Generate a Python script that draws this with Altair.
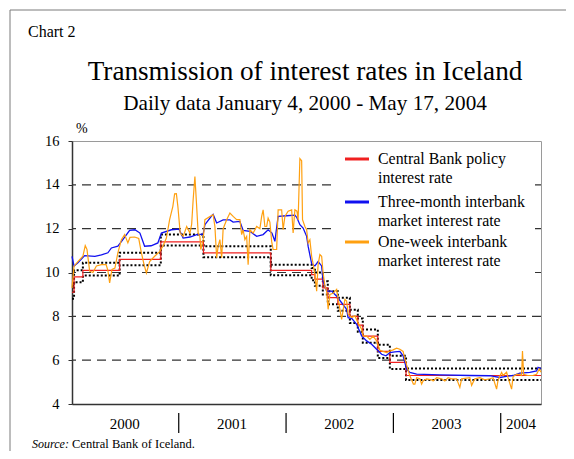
import altair as alt
import pandas as pd

# ---------------- data (days counted from 2000-01-04) ----------------
START = "2000-01-04"

policy_days = [0, 7, 37, 162, 302, 447, 676, 815, 826, 853, 870, 904, 945, 972, 989, 1040, 1081, 1136, 1595]
policy_rate = [9.1, 9.8, 10.1, 10.6, 11.4, 10.9, 10.1, 9.9, 9.7, 9.3, 8.85, 8.55, 8.0, 7.6, 7.1, 6.4, 5.9, 5.3, 5.3]
corridor_upper = [9.4, 10.1, 10.44, 10.9, 11.73, 11.2, 10.35, 10.2, 10.0, 9.6, 9.15, 8.85, 8.3, 7.9, 7.4, 6.7, 6.2, 5.62, 5.62]
corridor_lower = [8.8, 9.55, 9.86, 10.33, 11.23, 10.7, 9.88, 9.65, 9.4, 9.0, 8.55, 8.25, 7.7, 7.3, 6.8, 6.1, 5.6, 5.1, 5.1]

three_month_days = [0, 7, 20, 43, 78, 100, 122, 134, 156, 173, 196, 214, 231, 247, 269, 292, 304, 338, 364,
                    378, 401, 424, 446, 452, 475, 480, 492, 514, 537, 548, 571, 582, 605, 628, 650, 667, 680,
                    690, 701, 730, 758, 765, 775, 786, 798, 803, 815, 826, 837, 849, 854, 866, 883, 900, 917,
                    934, 939, 952, 968, 985, 1002, 1019, 1036, 1053, 1068, 1081, 1098, 1115, 1126, 1138, 1149,
                    1172, 1251, 1353, 1421, 1455, 1472, 1500, 1523, 1557, 1580, 1585, 1595]
three_month_rate = [10.74, 10.29, 10.44, 10.77, 10.74, 10.8, 10.9, 11.12, 11.2, 11.5, 11.92, 11.95, 11.8, 11.2,
                    11.22, 11.35, 11.8, 11.95, 11.98, 11.57, 11.62, 11.73, 11.75, 12.18, 12.59, 12.65, 12.26,
                    12.4, 12.4, 12.3, 12.33, 11.92, 11.88, 11.65, 11.73, 11.95, 11.8, 11.42, 12.56, 12.59,
                    12.62, 12.5, 12.18, 12.03, 11.65, 11.2, 10.4, 10.3, 10.5, 10.3, 9.6, 9.15, 9.15, 8.92,
                    8.62, 8.32, 7.94, 7.9, 7.64, 7.11, 6.88, 6.73, 6.5, 6.27, 6.2, 6.35, 6.38, 6.4, 6.2, 5.59,
                    5.44, 5.36, 5.33, 5.3, 5.29, 5.21, 5.25, 5.3, 5.41, 5.44, 5.51, 5.67, 5.62]

one_week_days = [0, 7, 20, 37, 45, 51, 60, 71, 83, 100, 116, 122, 128, 136, 146, 156, 168, 179, 190, 197, 213,
                 227, 236, 245, 253, 264, 281, 298, 309, 321, 332, 343, 349, 355, 360, 368, 378, 390, 401, 407,
                 412, 418, 424, 429, 435, 438, 446, 452, 469, 480, 486, 492, 497, 503, 509, 514, 526, 537, 548,
                 560, 571, 577, 582, 588, 594, 599, 605, 616, 628, 639, 645, 650, 656, 662, 667, 673, 679, 684,
                 696, 701, 713, 718, 724, 735, 747, 752, 758, 765, 769, 775, 781, 784, 792, 798, 803, 809, 815,
                 820, 826, 832, 837, 843, 849, 854, 860, 866, 871, 877, 888, 900, 905, 917, 928, 934, 939, 951,
                 962, 973, 985, 990, 1002, 1013, 1024, 1036, 1047, 1058, 1070, 1081, 1092, 1104, 1115, 1126,
                 1132, 1139, 1144, 1149, 1161, 1166, 1172, 1183, 1189, 1194, 1206, 1223, 1228, 1240, 1257, 1268,
                 1279, 1291, 1308, 1319, 1325, 1353, 1359, 1370, 1387, 1404, 1421, 1432, 1444, 1449, 1461, 1466,
                 1478, 1483, 1495, 1500, 1512, 1523, 1529, 1532, 1536, 1550, 1567, 1580, 1589, 1595]
one_week_rate = [9.3, 10.29, 10.5, 10.74, 11.23, 11.05, 10.06, 10.0, 10.3, 10.36, 10.36, 10.1, 9.53, 10.14, 10.2,
                 10.9, 11.5, 11.73, 11.35, 11.6, 11.62, 11.55, 10.9, 10.36, 9.98, 10.5, 10.74, 10.95, 11.2,
                 11.57, 12.41, 13.02, 13.59, 13.6, 13.02, 11.8, 11.65, 12.1, 11.8, 12.2, 13.32, 14.38, 13.0,
                 11.8, 11.65, 11.05, 11.5, 12.41, 12.55, 12.64, 12.1, 10.67, 11.2, 11.5, 10.67, 12.0, 12.41,
                 12.71, 12.56, 12.41, 12.41, 11.73, 11.95, 11.5, 11.65, 10.36, 11.95, 11.8, 12.1, 12.0, 12.56,
                 12.86, 12.1, 12.1, 12.48, 12.3, 11.42, 11.05, 11.05, 12.86, 12.86, 11.95, 12.56, 12.8, 12.86,
                 11.8, 12.86, 12.8, 12.4, 15.2, 15.1, 12.41, 12.1, 11.95, 11.35, 11.5, 10.74, 10.4, 9.9, 9.15,
                 10.36, 10.82, 10.74, 9.98, 9.4, 9.15, 8.32, 9.0, 9.05, 9.23, 8.8, 7.86, 8.77, 8.7, 8.1, 7.95,
                 8.02, 7.7, 7.41, 7.1, 7.1, 6.95, 7.1, 6.88, 6.45, 6.4, 6.35, 6.42, 6.47, 6.55, 6.5, 6.4, 6.05,
                 5.74, 5.5, 5.29, 4.91, 4.91, 5.2, 5.15, 4.91, 5.05, 5.15, 5.1, 5.05, 5.2, 5.15, 5.05, 5.2,
                 5.15, 5.15, 4.76, 5.15, 5.2, 4.85, 5.15, 5.2, 5.1, 5.15, 5.2, 4.68, 5.1, 5.44, 5.3, 5.45, 5.2,
                 4.68, 5.25, 5.35, 5.35, 5.3, 6.42, 5.35, 5.3, 5.3, 5.36, 5.6, 5.45]

grid_values = [6, 8, 10, 12, 14]
y_ticks = [4, 6, 8, 10, 12, 14, 16]
year_labels = ["2000", "2001", "2002", "2003", "2004"]
year_label_dates = ["2000-07-01", "2001-07-01", "2002-07-01", "2003-07-01", "2004-03-10"]
year_breaks = ["2001-01-01", "2002-01-01", "2003-01-01", "2004-01-01"]

legend_names = ["Central Bank policy interest rate",
                "Three-month interbank market interest rate",
                "One-week interbank market interest rate"]
legend_lines = [["Central Bank policy", "interest rate"],
                ["Three-month interbank", "market interest rate"],
                ["One-week interbank", "market interest rate"]]
legend_colors = ["#f02020", "#1010f0", "#ffa010"]

# ---------------- helpers ----------------
base = pd.Timestamp(START)


def to_dates(days):
    return [(base + pd.Timedelta(days=int(d))).strftime("%Y-%m-%d") for d in days]


policy_df = pd.DataFrame({"date": to_dates(policy_days), "rate": policy_rate})
corr_df = pd.concat([
    pd.DataFrame({"date": to_dates(policy_days), "rate": corridor_upper, "bound": "upper"}),
    pd.DataFrame({"date": to_dates(policy_days), "rate": corridor_lower, "bound": "lower"}),
])
tm_df = pd.DataFrame({"date": to_dates(three_month_days), "rate": three_month_rate})
ow_df = pd.DataFrame({"date": to_dates(one_week_days), "rate": one_week_rate})
grid_df = pd.DataFrame({"rate": grid_values})
years_df = pd.DataFrame({"date": year_label_dates, "label": year_labels})
breaks_df = pd.DataFrame({"date": year_breaks})
one = pd.DataFrame({"a": [0]})

SERIF = "Liberation Serif"

xscale = alt.Scale(domain=[alt.DateTime(year=2000, month=1, date=4),
                           alt.DateTime(year=2004, month=5, date=17)])
xaxis = alt.Axis(labels=False, ticks=False, grid=False, title=None,
                 domainColor="#333333", domainWidth=1.5)
X = alt.X("date:T", scale=xscale, axis=xaxis)
yscale = alt.Scale(domain=[4, 16], nice=False, zero=False)
yaxis = alt.Axis(values=y_ticks, grid=False, title=None, tickSize=4, tickColor="#333333",
                 domainColor="#333333", domainWidth=1.5, labelFont=SERIF, labelFontSize=14.5,
                 labelColor="black", labelPadding=9)
Y = alt.Y("rate:Q", scale=yscale, axis=yaxis)

W, H = 469, 263

grid = alt.Chart(grid_df).mark_rule(color="#333333", strokeWidth=1.2, strokeDash=[9, 6]).encode(
    y=alt.Y("rate:Q", scale=yscale, axis=yaxis))

legend_bg = alt.Chart(one).mark_rect(color="white").encode(
    x=alt.value(261), x2=alt.value(463), y=alt.value(7), y2=alt.value(139))

corr = alt.Chart(corr_df).mark_line(interpolate="step-after", color="black", strokeWidth=2,
                                    strokeDash=[2, 2]).encode(x=X, y=Y, detail="bound:N")
policy = alt.Chart(policy_df).mark_line(interpolate="step-after", color=legend_colors[0],
                                        strokeWidth=1.2).encode(x=X, y=Y)
three_month = alt.Chart(tm_df).mark_line(color=legend_colors[1], strokeWidth=1.3).encode(x=X, y=Y)
one_week = alt.Chart(ow_df).mark_line(color=legend_colors[2], strokeWidth=1.2).encode(x=X, y=Y)

# legend
leg_layers = []
for i, (name, lines, col) in enumerate(zip(legend_names, legend_lines, legend_colors)):
    ly = [18, 61, 101][i]
    leg_layers.append(alt.Chart(one).mark_rule(color=col, strokeWidth=3).encode(
        x=alt.value(273), x2=alt.value(297), y=alt.value(ly)))
    for j, line in enumerate(lines):
        leg_layers.append(alt.Chart(pd.DataFrame({"t": [line]})).mark_text(
            font=SERIF, fontSize=15.9, align="left", baseline="middle", color="black").encode(
            x=alt.value(306), y=alt.value(ly + 19 * j), text="t:N"))

# x-axis year labels and separators
year_text = alt.Chart(years_df).mark_text(font=SERIF, fontSize=15, baseline="middle",
                                          color="black").encode(
    x=alt.X("date:T", scale=xscale, axis=xaxis), y=alt.value(283), text="label:N")
year_sep = alt.Chart(breaks_df).mark_rule(color="black", strokeWidth=1.2).encode(
    x=alt.X("date:T", scale=xscale, axis=xaxis), y=alt.value(272), y2=alt.value(292))


def txt(s, x, y, size, align="left", style="normal"):
    return alt.Chart(pd.DataFrame({"t": [s]})).mark_text(
        font=SERIF, fontSize=size, align=align, baseline="middle", color="black",
        fontStyle=style).encode(x=alt.value(x), y=alt.value(y), text="t:N")


texts = [
    txt("Chart 2", -44, -109, 16),
    txt("Transmission of interest rates in Iceland", 233, -69, 27.2, "center"),
    txt("Daily data January 4, 2000 - May 17, 2004", 233, -37, 21.2, "center"),
    txt("%", 4, -12, 14),
    txt("Source:", -40, 303, 12, style="italic"),
    txt("Central Bank of Iceland.", 0, 303, 12.5),
]

# outer frame (left and top edges visible)
frame = [
    alt.Chart(one).mark_rule(color="#7a7a7a", strokeWidth=1).encode(
        x=alt.value(-62), y=alt.value(-131), y2=alt.value(330)),
    alt.Chart(one).mark_rule(color="#7a7a7a", strokeWidth=1).encode(
        x=alt.value(-62), x2=alt.value(520), y=alt.value(-131)),
]

chart = alt.layer(
    grid, legend_bg, corr, policy, three_month, one_week, year_sep, year_text,
    *leg_layers, *texts, *frame
).properties(
    width=W, height=H,
    autosize=alt.AutoSizeParams(type="none"),
    padding={"left": 64, "top": 133, "right": 25, "bottom": 47},
    background="white",
).configure_view(stroke="#9a9a9a", strokeWidth=1)

chart.save("out.html", embed_options={"renderer": "svg", "actions": False})
